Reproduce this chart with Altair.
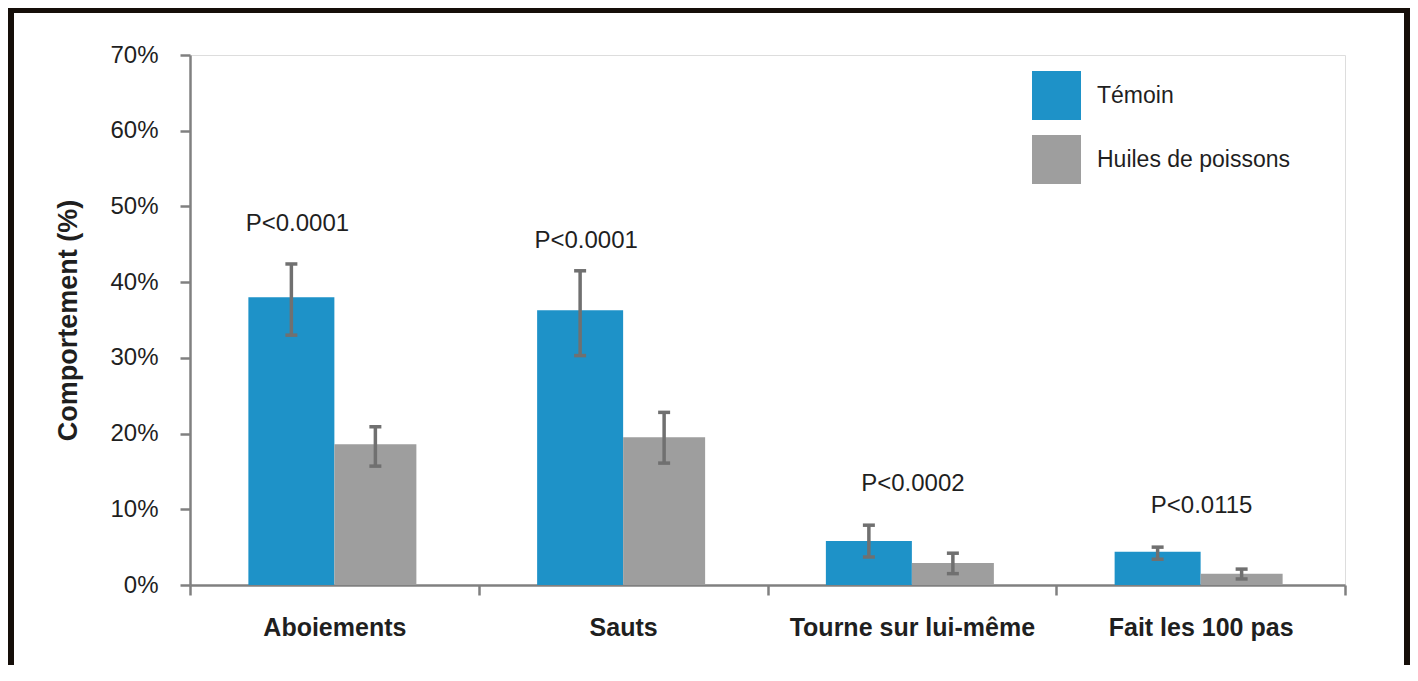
import altair as alt
import pandas as pd

categories = ["Aboiements", "Sauts", "Tourne sur lui-même", "Fait les 100 pas"]
series = ["Témoin", "Huiles de poissons"]
temoin_mean = [38.0, 36.3, 5.8, 4.4]
temoin_low = [33.0, 30.3, 3.7, 3.4]
temoin_high = [42.4, 41.5, 7.9, 5.0]
huiles_mean = [18.6, 19.5, 2.9, 1.5]
huiles_low = [15.7, 16.1, 1.5, 0.8]
huiles_high = [20.9, 22.8, 4.2, 2.1]
p_values = ["P<0.0001", "P<0.0001", "P<0.0002", "P<0.0115"]
p_label_level = [47.7, 45.4, 13.3, 10.4]
y_ticks = [0, 10, 20, 30, 40, 50, 60, 70]

BLUE = "#1e92c8"
GREY = "#9e9e9e"
ERR = "#707070"
AXIS = "#808080"
TXT = "#1f1f1f"
FONT = "Liberation Sans"

W, H = 1155, 530
PAD = {"left": 182, "top": 47, "right": 65, "bottom": 80}

rows = []
for i, c in enumerate(categories):
    rows.append({"cat": c, "group": series[0], "v": temoin_mean[i], "lo": temoin_low[i], "hi": temoin_high[i]})
    rows.append({"cat": c, "group": series[1], "v": huiles_mean[i], "lo": huiles_low[i], "hi": huiles_high[i]})
df = pd.DataFrame(rows)
ann = pd.DataFrame({"cat": categories, "label": p_values, "level": p_label_level})

xscale = alt.Scale(domain=categories, paddingInner=0, paddingOuter=0)
yscale = alt.Scale(domain=[0, 70], nice=False)
cscale = alt.Scale(domain=series, range=[BLUE, GREY])

x_enc = alt.X(
    "cat:N", scale=xscale, sort=categories, title=None,
    axis=alt.Axis(
        labelAngle=0, labelFont=FONT, labelFontSize=25, labelFontWeight="bold",
        labelColor=TXT, labelPadding=20, labelLimit=500, tickBand="extent", tickSize=10,
        tickWidth=2.5, tickColor=AXIS, domainColor=AXIS, domainWidth=2.5,
        grid=False,
    ),
)
y_enc = alt.Y(
    "v:Q", scale=yscale, title="Comportement (%)",
    axis=alt.Axis(
        values=y_ticks, labelExpr="datum.value + '%'", labelFont=FONT,
        labelFontSize=24, labelColor=TXT, labelPadding=22, tickSize=10,
        tickWidth=2.5, tickColor=AXIS, domainColor=AXIS, domainWidth=2.5,
        grid=False, titleFont=FONT, titleFontSize=27, titleFontWeight="bold",
        titleColor=TXT, titleX=-122, titleY=H / 2, titleAngle=-90,
        titleAlign="center", titleBaseline="middle",
    ),
)

base = alt.Chart(df)

legend = alt.Legend(
    title=None, orient="none", legendX=842, legendY=16, symbolType="square",
    symbolSize=2401, symbolStrokeWidth=0, symbolOpacity=1, labelFont=FONT,
    labelFontSize=23, labelColor=TXT, labelOffset=16, rowPadding=15,
    padding=0, labelLimit=400,
)

offsets = {series[0]: (86, -43), series[1]: (82, 41)}
layers = []
for g in series:
    w, off = offsets[g]
    sub = base.transform_filter(alt.datum.group == g)
    layers.append(
        sub.mark_bar(width=w, xOffset=off).encode(
            x=x_enc, y=y_enc,
            color=alt.Color("group:N", scale=cscale, legend=legend),
        )
    )
for g in series:
    w, off = offsets[g]
    sub = base.transform_filter(alt.datum.group == g)
    layers.append(
        sub.mark_rule(xOffset=off, color=ERR, strokeWidth=3.5).encode(
            x=alt.X("cat:N", scale=xscale, sort=categories),
            y=alt.Y("lo:Q", scale=yscale), y2="hi:Q",
        )
    )
    for fld in ["lo", "hi"]:
        layers.append(
            sub.mark_tick(xOffset=off, color=ERR, size=12, thickness=3.5, opacity=1).encode(
                x=alt.X("cat:N", scale=xscale, sort=categories),
                y=alt.Y(f"{fld}:Q", scale=yscale),
            )
        )

abase = alt.Chart(ann)
left_cats = categories[:2]
layers.append(
    abase.transform_filter(alt.FieldOneOfPredicate(field="cat", oneOf=left_cats))
    .mark_text(font=FONT, fontSize=24, color=TXT, dx=-37, baseline="middle")
    .encode(x=alt.X("cat:N", scale=xscale, sort=categories),
            y=alt.Y("level:Q", scale=yscale), text="label:N")
)
layers.append(
    abase.transform_filter(~alt.FieldOneOfPredicate(field="cat", oneOf=left_cats))
    .mark_text(font=FONT, fontSize=24, color=TXT, dx=1, baseline="middle")
    .encode(x=alt.X("cat:N", scale=xscale, sort=categories),
            y=alt.Y("level:Q", scale=yscale), text="label:N")
)

# decorative dark frame (left, top, right)
frame = alt.Chart(pd.DataFrame({"k": [0]}))
FR = "#150e09"
full_w = W + PAD["right"]
full_h = H + PAD["bottom"]
layers.append(frame.mark_rect(color=FR).encode(
    x=alt.value(-PAD["left"]), x2=alt.value(-PAD["left"] + 6),
    y=alt.value(-PAD["top"]), y2=alt.value(full_h)))
layers.append(frame.mark_rect(color=FR).encode(
    x=alt.value(-PAD["left"]), x2=alt.value(full_w),
    y=alt.value(-PAD["top"]), y2=alt.value(-PAD["top"] + 5)))
layers.append(frame.mark_rect(color=FR).encode(
    x=alt.value(full_w - 6), x2=alt.value(full_w),
    y=alt.value(-PAD["top"]), y2=alt.value(full_h)))

chart = (
    alt.layer(*layers)
    .properties(width=W, height=H, padding=PAD, autosize=alt.AutoSizeParams(type="none"))
    .configure_view(stroke=None)
    .configure(background="white")
)

chart.save("out.html", embed_options={"renderer": "svg", "actions": False})
